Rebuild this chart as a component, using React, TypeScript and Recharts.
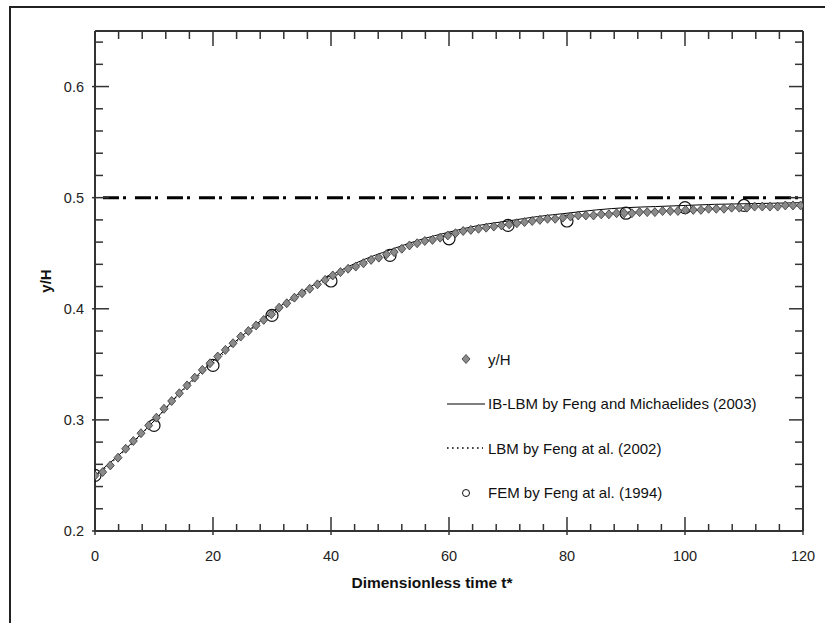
import React from 'react';
import { ComposedChart, Line, XAxis, YAxis, ReferenceLine, Legend } from 'recharts';

// y/H (diamonds)
const simTimes = [
  0, 1.3, 2.6, 3.9, 5.2, 6.5, 7.8, 9.1, 10.4, 11.7, 13, 14.3, 15.6, 16.9, 18.2, 19.5,
  20.8, 22.1, 23.4, 24.7, 26, 27.3, 28.6, 29.9, 31.2, 32.5, 33.8, 35.1, 36.4, 37.7, 39,
  40.3, 41.6, 42.9, 44.2, 45.5, 46.8, 48.1, 49.4, 50.7, 52, 53.3, 54.6, 55.9, 57.2, 58.5,
  59.8, 61.1, 62.4, 63.7, 65, 66.3, 67.6, 68.9, 70.2, 71.5, 72.8, 74.1, 75.4, 76.7, 78,
  79.3, 80.6, 81.9, 83.2, 84.5, 85.8, 87.1, 88.4, 89.7, 91, 92.3, 93.6, 94.9, 96.2, 97.5,
  98.8, 100.1, 101.4, 102.7, 104, 105.3, 106.6, 107.9, 109.2, 110.5, 111.8, 113.1, 114.4,
  115.7, 117, 118.3, 119.6,
];
const simValues = [
  0.25, 0.253, 0.259, 0.266, 0.274, 0.281, 0.288, 0.295, 0.302, 0.31, 0.317, 0.324, 0.331,
  0.338, 0.345, 0.351, 0.357, 0.363, 0.369, 0.375, 0.38, 0.385, 0.39, 0.395, 0.401, 0.405,
  0.41, 0.414, 0.418, 0.422, 0.426, 0.43, 0.433, 0.436, 0.438, 0.441, 0.444, 0.446, 0.449,
  0.451, 0.454, 0.457, 0.459, 0.461, 0.462, 0.464, 0.466, 0.468, 0.47, 0.471, 0.472, 0.473,
  0.474, 0.475, 0.476, 0.477, 0.478, 0.479, 0.48, 0.481, 0.481, 0.482, 0.483, 0.484, 0.484,
  0.484, 0.485, 0.485, 0.486, 0.486, 0.486, 0.487, 0.487, 0.487, 0.488, 0.488, 0.488, 0.489,
  0.489, 0.489, 0.49, 0.49, 0.49, 0.491, 0.491, 0.491, 0.492, 0.492, 0.492, 0.492, 0.493,
  0.493, 0.493,
];

// IB-LBM and LBM curves
const curveTimes = [0, 5, 10, 15, 20, 25, 30, 35, 40, 45, 50, 55, 60, 65, 70, 75, 80, 85, 90, 95, 100, 105, 110, 115, 120];
const ibValues = [
  0.25, 0.273, 0.299, 0.328, 0.353, 0.376, 0.397, 0.415, 0.43, 0.443, 0.453, 0.462, 0.469,
  0.475, 0.479, 0.483, 0.486, 0.489, 0.491, 0.492, 0.493, 0.494, 0.4945, 0.495, 0.4955,
];
const lbmValues = [
  0.249, 0.272, 0.299, 0.327, 0.351, 0.375, 0.395, 0.413, 0.428, 0.44, 0.45, 0.459, 0.466,
  0.472, 0.476, 0.48, 0.483, 0.485, 0.487, 0.488, 0.489, 0.49, 0.491, 0.492, 0.493,
];

// FEM (open circles)
const femTimes = [0, 10, 20, 30, 40, 50, 60, 70, 80, 90, 100, 110];
const femValues = [0.25, 0.295, 0.349, 0.394, 0.425, 0.448, 0.463, 0.475, 0.479, 0.486, 0.491, 0.493];

const equilibrium = 0.5;

const xTicks = [0, 4, 8, 12, 16, 20, 24, 28, 32, 36, 40, 44, 48, 52, 56, 60, 64, 68, 72, 76, 80, 84, 88, 92, 96, 100, 104, 108, 112, 116, 120];
const xMajor = [0, 20, 40, 60, 80, 100, 120];
const yTicks = [0.2, 0.22, 0.24, 0.26, 0.28, 0.3, 0.32, 0.34, 0.36, 0.38, 0.4, 0.42, 0.44, 0.46, 0.48, 0.5, 0.52, 0.54, 0.56, 0.58, 0.6, 0.62, 0.64];
const yMajor = ['0.2', '0.3', '0.4', '0.5', '0.6'];

const legendNames = [
  'y/H',
  'IB-LBM by Feng and Michaelides (2003)',
  'LBM by Feng at al. (2002)',
  'FEM by Feng at al. (1994)',
];

const toPoints = (xs: number[], ys: number[]) => xs.map((t, i) => ({ t, v: ys[i] }));
const simData = toPoints(simTimes, simValues);
const ibData = toPoints(curveTimes, ibValues);
const lbmData = toPoints(curveTimes, lbmValues);
const femData = toPoints(femTimes, femValues);

const FONT = '"Liberation Sans", Arial, sans-serif';
const AX = '#333';

const isMajorY = (v: number) => yMajor.includes(String(Math.round(v * 100) / 100));

const BottomTick = (props: any) => {
  const { x, y, payload } = props;
  const major = xMajor.includes(payload.value);
  return (
    <g>
      <line x1={x} x2={x} y1={major ? y + 4 : y} y2={major ? y - 14 : y - 7} stroke={AX} strokeWidth={1.5} />
      {major && (
        <text x={x} y={y + 25} textAnchor="middle" dy="0.35em" fontSize={14.5} fill="#222" fontFamily={FONT}>
          {payload.value}
        </text>
      )}
    </g>
  );
};

const TopTick = (props: any) => {
  const { x, y, payload } = props;
  const major = xMajor.includes(payload.value);
  return <line x1={x} x2={x} y1={y} y2={major ? y + 15 : y + 8} stroke={AX} strokeWidth={1.5} />;
};

const LeftTick = (props: any) => {
  const { x, y, payload } = props;
  const major = isMajorY(payload.value);
  return (
    <g>
      <line x1={major ? x - 3 : x} x2={major ? x + 14 : x + 8} y1={y} y2={y} stroke={AX} strokeWidth={1.5} />
      {major && (
        <text x={x - 11} y={y} textAnchor="end" dy="0.35em" fontSize={14.5} fill="#222" fontFamily={FONT}>
          {String(Math.round(payload.value * 10) / 10)}
        </text>
      )}
    </g>
  );
};

const RightTick = (props: any) => {
  const { x, y, payload } = props;
  const major = isMajorY(payload.value);
  return <line x1={x} x2={major ? x - 14 : x - 8} y1={y} y2={y} stroke={AX} strokeWidth={1.5} />;
};

const Diamond = (props: any) => {
  const { cx, cy, index } = props;
  if (cx == null || cy == null) return <g key={`d-${index}`} />;
  return (
    <path
      key={`d-${index}`}
      d={`M${cx},${cy - 4.5}L${cx + 4},${cy}L${cx},${cy + 4.5}L${cx - 4},${cy}Z`}
      fill="#8a8a8a"
      stroke="#333"
      strokeWidth={0.8}
    />
  );
};

const Ring = (props: any) => {
  const { cx, cy, index } = props;
  if (cx == null || cy == null) return <g key={`c-${index}`} />;
  return <circle key={`c-${index}`} cx={cx} cy={cy} r={6} fill="none" stroke="#111" strokeWidth={1.2} />;
};

const LegendBox = () => (
  <div style={{ fontFamily: FONT, fontSize: 15, color: '#111' }}>
    {legendNames.map((name, i) => (
      <div key={name} style={{ display: 'flex', alignItems: 'center', height: 44.5 }}>
        <svg width={38} height={14} style={{ marginRight: 3 }}>
          {i === 0 && <path d="M19,2.5L23,7L19,11.5L15,7Z" fill="#8a8a8a" stroke="#333" strokeWidth={0.8} />}
          {i === 1 && <line x1={0} x2={38} y1={7} y2={7} stroke="#000" strokeWidth={1.2} />}
          {i === 2 && <line x1={0} x2={36} y1={7} y2={7} stroke="#000" strokeWidth={1.6} strokeDasharray="1.6 3.4" />}
          {i === 3 && <circle cx={19} cy={7} r={3.5} fill="none" stroke="#111" strokeWidth={1} />}
        </svg>
        <span>{name}</span>
      </div>
    ))}
  </div>
);

export default function App() {
  return (
    <div style={{ position: 'absolute', left: 0, top: 0, width: 825, height: 623, background: '#fff', overflow: 'hidden' }}>
      <div
        style={{
          position: 'absolute',
          left: 9,
          top: 6,
          width: 830,
          height: 630,
          borderTop: '2px solid #222',
          borderLeft: '2px solid #222',
        }}
      />
      <ComposedChart
        width={825}
        height={623}
        margin={{ top: 21, right: 12, bottom: 62, left: 35 }}
        style={{ position: 'absolute', left: 0, top: 0 }}
      >
        <XAxis
          xAxisId="b"
          dataKey="t"
          type="number"
          domain={[0, 120]}
          ticks={xTicks}
          interval={0}
          height={30}
          tickSize={0}
          tickMargin={0}
          tickLine={false}
          axisLine={{ stroke: AX, strokeWidth: 2 }}
          tick={<BottomTick />}
          allowDataOverflow
          label={{
            content: (p: any) => {
              const vb = p.viewBox || { x: 95, y: 531, width: 708 };
              return (
                <text x={vb.x + vb.width / 2 - 17} y={vb.y + 52} textAnchor="middle" dy="0.35em" fontSize={15.5} fontWeight="bold" fill="#111" fontFamily={FONT}>
                  Dimensionless time t*
                </text>
              );
            },
          }}
        />
        <XAxis
          xAxisId="top"
          orientation="top"
          dataKey="t"
          type="number"
          domain={[0, 120]}
          ticks={xTicks}
          interval={0}
          height={10}
          tickSize={0}
          tickMargin={0}
          tickLine={false}
          axisLine={{ stroke: AX, strokeWidth: 2 }}
          tick={<TopTick />}
          allowDataOverflow
        />
        <YAxis
          yAxisId="l"
          type="number"
          domain={[0.2, 0.65]}
          ticks={yTicks}
          interval={0}
          width={60}
          tickSize={0}
          tickMargin={0}
          tickLine={false}
          axisLine={{ stroke: AX, strokeWidth: 2 }}
          tick={<LeftTick />}
          allowDataOverflow
          label={{
            content: (p: any) => {
              const vb = p.viewBox || { x: 35, y: 31, height: 500 };
              const cx = vb.x + 11;
              const cy = vb.y + vb.height / 2;
              return (
                <text x={cx} y={cy} transform={`rotate(-90, ${cx}, ${cy})`} textAnchor="middle" dy="0.35em" fontSize={15} fontWeight="bold" fill="#111" fontFamily={FONT}>
                  y/H
                </text>
              );
            },
          }}
        />
        <YAxis
          yAxisId="r"
          orientation="right"
          type="number"
          domain={[0.2, 0.65]}
          ticks={yTicks}
          interval={0}
          width={10}
          tickSize={0}
          tickMargin={0}
          tickLine={false}
          axisLine={{ stroke: AX, strokeWidth: 2 }}
          tick={<RightTick />}
          allowDataOverflow
        />
        <ReferenceLine
          xAxisId="b"
          yAxisId="l"
          y={equilibrium}
          stroke="#000"
          strokeWidth={3}
          strokeDasharray="16 4 3 9"
          strokeDashoffset={-8}
        />
        <Line
          xAxisId="b"
          yAxisId="l"
          data={femData}
          dataKey="v"
          name={legendNames[3]}
          stroke="none"
          dot={<Ring />}
          activeDot={false}
          isAnimationActive={false}
        />
        <Line
          xAxisId="b"
          yAxisId="l"
          data={lbmData}
          dataKey="v"
          name={legendNames[2]}
          type="monotone"
          stroke="#444"
          strokeWidth={1.2}
          strokeDasharray="1.5 2.5"
          dot={false}
          activeDot={false}
          isAnimationActive={false}
        />
        <Line
          xAxisId="b"
          yAxisId="l"
          data={ibData}
          dataKey="v"
          name={legendNames[1]}
          type="monotone"
          stroke="#000"
          strokeWidth={1}
          dot={false}
          activeDot={false}
          isAnimationActive={false}
        />
        <Line
          xAxisId="b"
          yAxisId="l"
          data={simData}
          dataKey="v"
          name={legendNames[0]}
          stroke="none"
          dot={<Diamond />}
          activeDot={false}
          isAnimationActive={false}
        />
        <Legend
          layout="vertical"
          verticalAlign="middle"
          align="center"
          content={<LegendBox />}
          wrapperStyle={{ left: 447, top: 337, width: 340 }}
        />
      </ComposedChart>
    </div>
  );
}
